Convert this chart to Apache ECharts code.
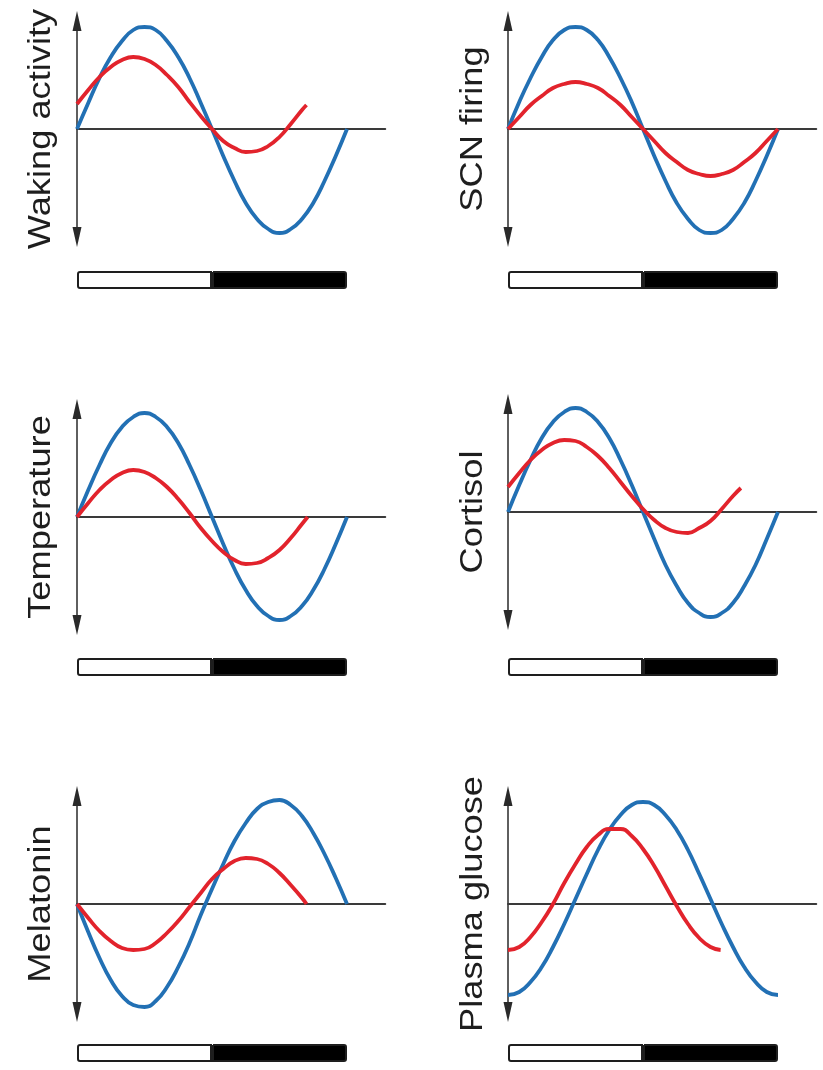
<!DOCTYPE html>
<html>
<head>
<meta charset="utf-8">
<script src="https://cdn.jsdelivr.net/npm/echarts@6/dist/echarts.min.js"></script>
<style>
  html, body { margin: 0; padding: 0; background: #fff; }
  #chart { width: 823px; height: 1070px; }
</style>
</head>
<body>
<div id="chart"></div>
<script>
// Hours of the day at which the normal-rhythm (blue) curves are sampled
const hours = [0, 1, 2, 3, 4, 5, 6, 7, 8, 9, 10, 11, 12, 13, 14, 15, 16, 17, 18, 19, 20, 21, 22, 23, 24];

// Panel titles (y-axis names)
const panelTitles = ['Waking activity', 'SCN firing', 'Temperature', 'Cortisol', 'Melatonin', 'Plasma glucose'];

// Normal rhythm, one value per hour in `hours`
const wakingBlue    = [0, 26, 51, 72, 88, 99, 102, 99, 88, 72, 51, 26, 0, -27, -52, -74, -90, -100, -104, -100, -90, -74, -52, -27, 0];
const scnBlue       = [0, 27, 51, 72, 89, 99, 102, 99, 89, 72, 51, 27, 0, -27, -52, -74, -90, -101, -104, -101, -90, -74, -52, -27, 0];
const tempBlue      = [0, 27, 52, 74, 90, 100, 104, 100, 90, 74, 52, 27, 0, -27, -52, -73, -89, -99, -103, -99, -89, -73, -52, -27, 0];
const cortisolBlue  = [0, 27, 52, 74, 90, 100, 104, 100, 90, 74, 52, 27, 0, -27, -53, -74, -91, -101, -105, -101, -91, -74, -53, -27, 0];
const melatoninBlue = [0, -28, -54, -76, -92, -101, -103, -97, -83, -63, -39, -11, 15, 40, 63, 81, 95, 102, 104, 99, 88, 71, 50, 26, 0];
const glucoseBlue   = [-91, -88, -78, -63, -43, -20, 5, 30, 54, 74, 89, 99, 102, 99, 89, 74, 54, 30, 5, -20, -43, -63, -78, -88, -91];

// Altered rhythm, [hour, value] pairs
const wakingRed = [[0, 25], [1, 39], [2, 52], [3, 62], [4, 69], [5, 72], [6, 70], [7, 64], [8, 54], [9, 42], [10, 27],
  [11, 13], [12, 0], [13, -12], [14, -19], [15, -23], [16, -22], [17, -17], [18, -8], [19, 5], [20, 19], [20.4, 24]];
const scnRed = [[0, 0], [1, 12], [2, 24], [3, 33], [4, 41], [5, 45], [6, 47], [7, 45], [8, 41], [9, 33], [10, 24], [11, 12],
  [12, 0], [13, -12], [14, -24], [15, -33], [16, -41], [17, -45], [18, -47], [19, -45], [20, -41], [21, -33], [22, -24], [23, -12], [24, 0]];
const tempRed = [[0, 0], [1, 14], [2, 27], [3, 37], [4, 44], [5, 47], [6, 45], [7, 39], [8, 30], [9, 18], [10, 4],
  [11, -11], [12, -24], [13, -35], [14, -43], [15, -47], [16, -46], [17, -41], [18, -33], [19, -21], [20, -7], [20.5, 0]];
const cortisolRed = [[0, 25], [1, 39], [2, 52], [3, 62], [4, 69], [5, 72], [6, 71], [7, 65], [8, 56], [9, 44], [10, 30],
  [11, 16], [12, 3], [13, -8], [14, -16], [15, -20], [16, -21], [17, -16], [18, -9], [19, 3], [20, 16], [20.7, 24]];
const melatoninRed = [[0, 0], [1, -14], [2, -27], [3, -37], [4, -44], [5, -46], [6, -45], [7, -39], [8, -29], [9, -17], [10, -3],
  [11, 11], [12, 25], [13, 35], [14, 43], [15, 46], [16, 45], [17, 40], [18, 31], [19, 19], [20, 6], [20.4, 0]];
const glucoseRed = [[0, -46], [1, -43], [2, -33], [3, -18], [4, 0], [5, 21], [6, 40], [7, 57], [8, 69], [9, 75], [10, 75],
  [11, 68], [12, 55], [13, 38], [14, 18], [15, -2], [16, -20], [17, -34], [18, -43], [18.9, -46]];

// Light / dark phases of the day (hours)
const lightHours = [12];
const darkHours = [12];

const blueSets = [wakingBlue, scnBlue, tempBlue, cortisolBlue, melatoninBlue, glucoseBlue];
const redSets = [wakingRed, scnRed, tempRed, cortisolRed, melatoninRed, glucoseRed];

// Layout of the six panels
const colLeft = [77, 508];
const zeroY = [129, 129, 517, 512, 904, 904];
const stripTop = [270, 270, 657, 657, 1043, 1043];
const labelX = [41, 473];
const halfRange = 108;
const pxPerHour = 11.25;
const axisExtentHours = 27.4;

const BLUE = '#2270b4';
const RED = '#e2232c';

const grid = [], xAxis = [], yAxis = [], series = [], graphic = [];

panelTitles.forEach((title, i) => {
  const col = i % 2;
  const left = colLeft[col];
  const g = grid.length;

  // curve panel
  grid.push({ left: left, top: zeroY[i] - halfRange, width: axisExtentHours * pxPerHour, height: halfRange * 2 });
  xAxis.push({
    gridIndex: g, type: 'value', min: 0, max: axisExtentHours,
    axisLine: { show: true, onZero: true, lineStyle: { color: '#3a3a3a', width: 2 } },
    axisTick: { show: false }, axisLabel: { show: false }, splitLine: { show: false }
  });
  yAxis.push({
    gridIndex: g, type: 'value', min: -halfRange, max: halfRange,
    axisLine: {
      show: true, onZero: false,
      symbol: ['triangle', 'triangle'], symbolSize: [9, 20],
      lineStyle: { color: '#2a2a2a', width: 1.5 }
    },
    axisTick: { show: false }, axisLabel: { show: false }, splitLine: { show: false }
  });
  series.push({
    type: 'line', xAxisIndex: g, yAxisIndex: g, smooth: 0.5, showSymbol: false,
    lineStyle: { color: BLUE, width: 3.8 }, itemStyle: { color: BLUE },
    data: hours.map((h, k) => [h, blueSets[i][k]]), z: 3
  });
  series.push({
    type: 'line', xAxisIndex: g, yAxisIndex: g, smooth: 0.5, showSymbol: false,
    lineStyle: { color: RED, width: 3.8 }, itemStyle: { color: RED },
    data: redSets[i], z: 4
  });

  // light/dark strip
  const s = grid.length;
  grid.push({ left: left, top: stripTop[i], width: 24 * pxPerHour, height: 20 });
  xAxis.push({ gridIndex: s, type: 'value', min: 0, max: 24, show: false });
  yAxis.push({ gridIndex: s, type: 'category', data: ['day'], show: false });
  series.push({
    type: 'bar', xAxisIndex: s, yAxisIndex: s, stack: 'cycle' + i, barWidth: 18,
    itemStyle: { color: '#ffffff', borderColor: '#1e1e1e', borderWidth: 2, borderRadius: [2, 0, 0, 2] },
    data: lightHours, silent: true
  });
  series.push({
    type: 'bar', xAxisIndex: s, yAxisIndex: s, stack: 'cycle' + i, barWidth: 18,
    itemStyle: { color: '#000000', borderColor: '#1e1e1e', borderWidth: 2, borderRadius: [0, 2, 2, 0] },
    data: darkHours, silent: true
  });

  // vertical axis title
  graphic.push({
    type: 'text', x: labelX[col], y: zeroY[i], rotation: Math.PI / 2, scaleX: 1.17, scaleY: 1,
    style: {
      text: title, fill: '#1e1e1e',
      fontSize: 31, fontFamily: 'Liberation Sans, Arial, sans-serif',
      align: 'center', verticalAlign: 'middle'
    }
  });
});

const chart = echarts.init(document.getElementById('chart'), null, { renderer: 'canvas' });
chart.setOption({
  backgroundColor: '#ffffff',
  animation: false,
  grid, xAxis, yAxis, series, graphic
});
</script>
</body>
</html>
